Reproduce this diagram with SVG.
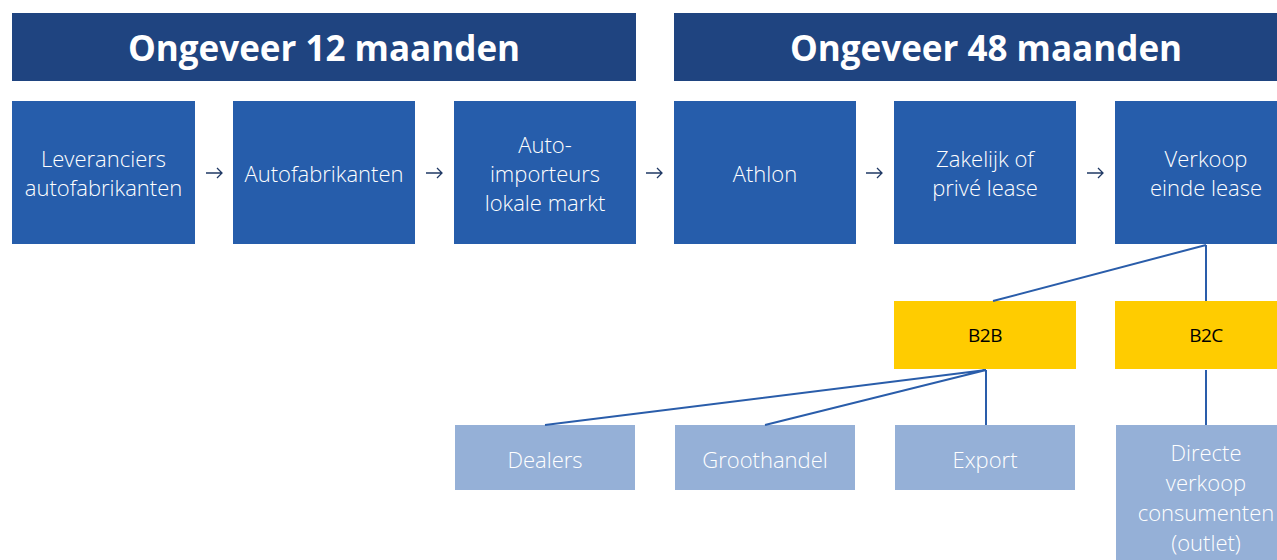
<svg xmlns="http://www.w3.org/2000/svg" width="1277" height="560" viewBox="0 0 1277 560">
<style>
.hdr{fill:#1F4480}
.main{fill:#265DAB}
.yel{fill:#FFCC00}
.lite{fill:#95B0D7}
.ht{font-family:"Open Sans",Lato,sans-serif;font-weight:bold;font-size:35px;fill:#fff;text-anchor:middle}
.bt{font-family:"Open Sans",Lato,sans-serif;font-weight:300;font-size:22px;fill:#fff;text-anchor:middle}
.yt{font-family:"Open Sans",Lato,sans-serif;font-size:19px;fill:#000;text-anchor:middle;letter-spacing:-0.5px}
.arr{stroke:#1F3864;stroke-width:1.3;fill:none}
.ln{stroke:#2A5DAA;stroke-width:2;fill:none}
</style>
<rect width="1277" height="560" fill="#fff"/>
<g id="hdr12"><rect class="hdr" x="12" y="13" width="624" height="68"/><text class="ht" x="324" y="61">Ongeveer 12 maanden</text></g>
<g id="hdr48"><rect class="hdr" x="674" y="13" width="603" height="68"/><text class="ht" x="986" y="61">Ongeveer 48 maanden</text></g>
<g id="n1"><rect class="main" x="12" y="101" width="183" height="143"/><text class="bt" x="103.5" y="167">Leveranciers</text><text class="bt" x="103.5" y="196">autofabrikanten</text></g>
<g id="n2"><rect class="main" x="233" y="101" width="182" height="143"/><text class="bt" x="324" y="182">Autofabrikanten</text></g>
<g id="n3"><rect class="main" x="454" y="101" width="182" height="143"/><text class="bt" x="545" y="153">Auto-</text><text class="bt" x="545" y="182">importeurs</text><text class="bt" x="545" y="211">lokale markt</text></g>
<g id="n4"><rect class="main" x="674" y="101" width="182" height="143"/><text class="bt" x="765" y="182">Athlon</text></g>
<g id="n5"><rect class="main" x="894" y="101" width="182" height="143"/><text class="bt" x="985" y="167">Zakelijk of</text><text class="bt" x="985" y="196">privé lease</text></g>
<g id="n6"><rect class="main" x="1115" y="101" width="162" height="143"/><text class="bt" x="1206" y="167">Verkoop</text><text class="bt" x="1206" y="196">einde lease</text></g>
<g id="b2b"><rect class="yel" x="894" y="301" width="182" height="68"/><text class="yt" x="985" y="342">B2B</text></g>
<g id="b2c"><rect class="yel" x="1115" y="301" width="162" height="68"/><text class="yt" x="1206" y="342">B2C</text></g>
<g id="dealers"><rect class="lite" x="455" y="425" width="180" height="65"/><text class="bt" x="545" y="468">Dealers</text></g>
<g id="groothandel"><rect class="lite" x="675" y="425" width="180" height="65"/><text class="bt" x="765" y="468">Groothandel</text></g>
<g id="export"><rect class="lite" x="895" y="425" width="180" height="65"/><text class="bt" x="985" y="468">Export</text></g>
<g id="directe"><rect class="lite" x="1116" y="425" width="161" height="135"/><text class="bt" x="1206" y="461">Directe</text><text class="bt" x="1206" y="491">verkoop</text><text class="bt" x="1206" y="521">consumenten</text><text class="bt" x="1206" y="551">(outlet)</text></g>
<g id="connectors">
<path class="arr" d="M206 173H222M217 168L222 173L217 178"/>
<path class="arr" d="M426 173H442M437 168L442 173L437 178"/>
<path class="arr" d="M646 173H662M657 168L662 173L657 178"/>
<path class="arr" d="M866 173H882M877 168L882 173L877 178"/>
<path class="arr" d="M1087 173H1103M1098 168L1103 173L1098 178"/>
<path class="ln" d="M1206 245L993 301M1206 245V301"/>
<path class="ln" d="M986 370L545 425M986 370L765 425M986 370V425"/>
<path class="ln" d="M1206 370V425"/>
</g>
</svg>
